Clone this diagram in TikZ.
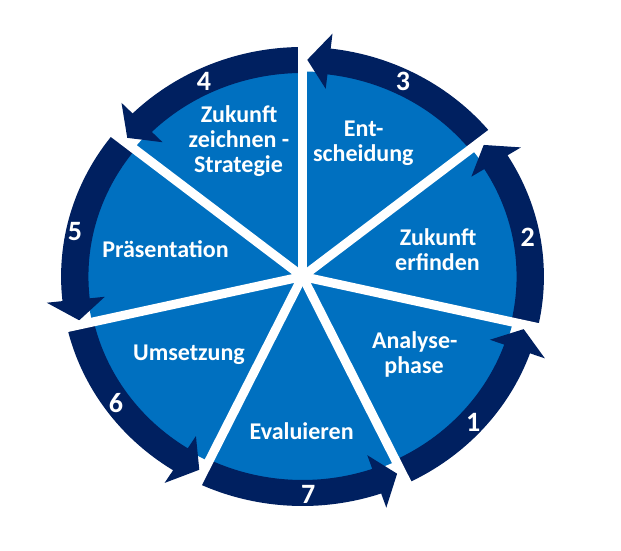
\documentclass[tikz,border=0pt]{standalone}
\usepackage{fontspec}
\setmainfont{Carlito}
\definecolor{segblue}{HTML}{0070C0}
\definecolor{ringnavy}{HTML}{002060}
\tikzset{
  lbl/.style={text=white, font=\bfseries\fontsize{24}{26}\selectfont, anchor=base, inner sep=0pt},
  num/.style={text=white, font=\bfseries\fontsize{28}{30}\selectfont, anchor=base, inner sep=0pt},
  gapline/.style={draw=white, line width=9pt},
  arrowring/.style={fill=ringnavy}
}
\begin{document}
\begin{tikzpicture}[x=1pt,y=1pt]
\useasboundingbox (0,0) rectangle (621,-551);
\begin{scope}[shift={(302.5,-276.5)}, xscale=1.052]
  \coordinate (C) at (0,0);
  \fill[segblue] (C) circle[radius=205];
  \foreach \t [evaluate=\t as \p using \t+50.23, evaluate=\t as \b using \t+44.73] in {-64.2857,-12.8571,38.5714,90,141.4286,192.8571,244.2857}{
    \fill[arrowring] (\t:229.5) arc[start angle=\t, end angle=\b, radius=229.5]
      -- (\b:244.5) -- (\p:216.75) -- (\b:189) -- (\b:203.5)
      arc[start angle=\b, end angle=\t, radius=203.5] -- cycle;
  }
  \foreach \g [count=\i] in {90,38.5714,-12.8571,-64.2857,-115.7143,-167.1429,141.4286}{
    \coordinate (G\i) at (\g:236);
    \draw[gapline] (C) -- (G\i);
  }
\end{scope}
% labels
\node[lbl] (t4a) at (239,-122.3) {Zukunft};
\node[lbl] (t4b) at (239,-147.7) {zeichnen -};
\node[lbl] (t4c) at (238.5,-172.3) {Strategie};
\node[lbl] (t3a) at (363.7,-136) {Ent-};
\node[lbl] (t3b) at (363.3,-161.7) {scheidung};
\node[lbl] (t2a) at (438,-245) {Zukunft};
\node[lbl] (t2b) at (437.5,-270) {erfinden};
\node[lbl] (t1a) at (414.7,-348.3) {Analyse-};
\node[lbl] (t1b) at (414,-373.3) {phase};
\node[lbl] (t5) at (165.5,-257.3) {Präsentation};
\node[lbl] (t6) at (189,-360.7) {Umsetzung};
\node[lbl] (t7) at (301.7,-439.5) {Evaluieren};
% numbers
\node[num] (n1) at (473.3,-431) {1};
\node[num] (n2) at (527.7,-246.7) {2};
\node[num] (n3) at (403,-91) {3};
\node[num] (n4) at (204,-90) {4};
\node[num] (n5) at (75,-240) {5};
\node[num] (n6) at (116,-412.7) {6};
\node[num] (n7) at (308.3,-503.3) {7};
\end{tikzpicture}
\end{document}
